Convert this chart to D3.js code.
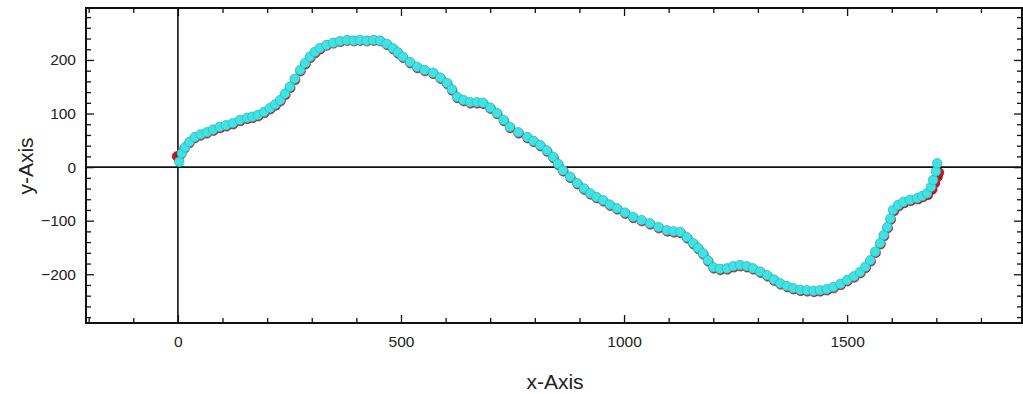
<!DOCTYPE html>
<html>
<head>
<meta charset="utf-8">
<script src="https://cdn.jsdelivr.net/npm/d3@7"></script>
<style>
  body { margin: 0; background: #fff; }
  svg { display: block; font-family: "Liberation Sans", Arial, sans-serif; }
  .tick text { fill: #222; font-size: 15.5px; }
</style>
</head>
<body>
<svg id="chart" width="1023" height="394"></svg>
<script>
// cyan series
const cyanX = [3, 9, 16, 26, 38, 51, 65, 79, 94, 108, 123, 139, 155, 167, 179, 193, 206, 218, 229, 240,
  251, 262, 274, 285, 296, 307, 318, 333, 348, 363, 379, 394, 408, 423, 438, 453, 468, 482, 493, 504,
  520, 536, 553, 572, 588, 603, 614, 626, 640, 655, 670, 684, 700, 715, 730, 744, 763, 783, 797, 812,
  827, 841, 852, 863, 879, 895, 910, 924, 938, 953, 968, 984, 1002, 1020, 1039, 1058, 1077, 1096, 1111, 1126,
  1141, 1155, 1166, 1177, 1188, 1200, 1215, 1231, 1245, 1260, 1275, 1289, 1305, 1321, 1336, 1350, 1365, 1379, 1395, 1410,
  1425, 1439, 1454, 1469, 1485, 1500, 1515, 1529, 1541, 1552, 1563, 1574, 1582, 1590, 1597, 1603, 1614, 1626, 1641, 1657,
  1668, 1679, 1688, 1693, 1699, 1702];
const cyanY = [10, 26, 37, 47, 56, 61, 65, 70, 75, 78, 82, 88, 92, 94, 97, 103, 110, 117, 125, 137,
  150, 165, 181, 194, 206, 215, 222, 228, 232, 235, 237, 236, 237, 236, 237, 236, 230, 222, 214, 206,
  196, 187, 181, 176, 167, 157, 145, 131, 125, 121, 121, 120, 111, 101, 88, 75, 65, 56, 49, 41,
  31, 19, 6, -6, -18, -30, -40, -49, -56, -62, -70, -77, -85, -93, -99, -105, -112, -118, -120, -121,
  -131, -142, -151, -161, -174, -187, -190, -189, -185, -183, -185, -189, -195, -202, -210, -217, -222, -226, -229, -230,
  -231, -230, -228, -224, -218, -211, -204, -196, -186, -174, -158, -142, -127, -112, -96, -80, -71, -65, -61, -58,
  -54, -49, -37, -24, -8, 7];

// red series, mostly hidden under the cyan one
const redX = [-2, 7, 15, 26, 38, 51, 65, 80, 95, 109, 124, 140, 156, 168, 180, 194, 207, 219, 230, 241,
  252, 263, 275, 286, 297, 308, 319, 334, 349, 364, 380, 395, 409, 424, 439, 454, 469, 483, 494, 505,
  521, 537, 554, 573, 589, 604, 615, 627, 641, 656, 671, 685, 701, 716, 731, 745, 764, 784, 798, 813,
  828, 842, 853, 864, 880, 896, 911, 925, 939, 954, 969, 985, 1003, 1021, 1040, 1059, 1078, 1097, 1112, 1127,
  1142, 1156, 1167, 1178, 1189, 1201, 1216, 1232, 1246, 1261, 1276, 1290, 1306, 1322, 1337, 1351, 1366, 1380, 1396, 1411,
  1426, 1440, 1455, 1470, 1486, 1501, 1516, 1530, 1542, 1553, 1564, 1575, 1583, 1591, 1598, 1605, 1616, 1628, 1643, 1659,
  1670, 1681, 1691, 1697, 1703, 1706];
const redY = [20, 24, 35, 45, 54, 59, 63, 68, 73, 76, 80, 86, 90, 92, 95, 101, 108, 115, 123, 135,
  148, 163, 179, 192, 204, 213, 220, 227, 231, 234, 236, 235, 236, 235, 236, 235, 228, 220, 212, 204,
  194, 185, 179, 174, 165, 155, 143, 129, 123, 119, 119, 118, 109, 99, 86, 73, 63, 54, 47, 39,
  29, 17, 4, -8, -20, -32, -42, -51, -58, -64, -72, -79, -87, -95, -101, -107, -114, -120, -122, -123,
  -133, -144, -153, -163, -176, -189, -192, -191, -187, -185, -187, -191, -197, -204, -212, -219, -224, -228, -231, -232,
  -233, -232, -230, -226, -220, -213, -206, -198, -188, -176, -160, -144, -129, -114, -98, -82, -73, -67, -63, -60,
  -56, -52, -42, -30, -18, -10];

const xMajor = [0, 500, 1000, 1500];
const xMinor = [-200, -100, 100, 200, 300, 400, 600, 700, 800, 900, 1100, 1200, 1300, 1400, 1600, 1700, 1800];
const yMajor = [-200, -100, 0, 100, 200];
const yMinor = [-280, -260, -240, -220, -180, -160, -140, -120, -80, -60, -40, -20,
  20, 40, 60, 80, 120, 140, 160, 180, 220, 240, 260, 280];

const plotLeft = 86, plotRight = 1022, plotTop = 8, plotBottom = 323;

const svg = d3.select("#chart");

const x = d3.scaleLinear().domain([-206, 1892]).range([plotLeft, plotRight]);
const y = d3.scaleLinear().domain([-291, 297]).range([plotBottom, plotTop]);

// frame ticks on all four sides, pointing inward
function drawTicks(axisFn, transform, values, size, labels, pad) {
  const g = svg.append("g")
    .attr("transform", transform)
    .call(axisFn.tickValues(values).tickSize(-size).tickPadding(pad || 9)
      .tickFormat(labels ? d => d3.format("")(d).replace("-", "\u2212") : ""));
  g.select(".domain").remove();
  g.selectAll(".tick line").attr("stroke", "#111").attr("stroke-width", 1.3);
  return g;
}

drawTicks(d3.axisBottom(x), `translate(0,${plotBottom})`, xMajor, 8, true, 13);
drawTicks(d3.axisBottom(x), `translate(0,${plotBottom})`, xMinor, 5, false);
drawTicks(d3.axisTop(x), `translate(0,${plotTop})`, xMajor, 8, false);
drawTicks(d3.axisTop(x), `translate(0,${plotTop})`, xMinor, 5, false);
drawTicks(d3.axisLeft(y), `translate(${plotLeft},0)`, yMajor, 8, true, 10);
drawTicks(d3.axisLeft(y), `translate(${plotLeft},0)`, yMinor, 5, false);
drawTicks(d3.axisRight(y), `translate(${plotRight},0)`, yMajor, 8, false);
drawTicks(d3.axisRight(y), `translate(${plotRight},0)`, yMinor, 5, false);

// frame
svg.append("rect")
  .attr("x", plotLeft).attr("y", plotTop)
  .attr("width", plotRight - plotLeft).attr("height", plotBottom - plotTop)
  .attr("fill", "none").attr("stroke", "#111").attr("stroke-width", 2);

// origin axes
svg.append("line")
  .attr("x1", x(0)).attr("x2", x(0)).attr("y1", plotTop).attr("y2", plotBottom)
  .attr("stroke", "#111").attr("stroke-width", 1.6);
svg.append("line")
  .attr("x1", plotLeft).attr("x2", plotRight).attr("y1", y(0)).attr("y2", y(0))
  .attr("stroke", "#111").attr("stroke-width", 1.6);

// points
const red = redX.map((d, i) => ({ x: d, y: redY[i] }));
const cyan = cyanX.map((d, i) => ({ x: d, y: cyanY[i] }));

svg.append("g").selectAll("circle")
  .data(red)
  .enter()
  .append("circle")
  .attr("cx", d => x(d.x))
  .attr("cy", d => y(d.y))
  .attr("r", 4.8)
  .attr("fill", "#c8141c")
  .attr("stroke", "#8a0d12")
  .attr("stroke-width", 0.6);

svg.append("g").selectAll("circle")
  .data(cyan)
  .enter()
  .append("circle")
  .attr("cx", d => x(d.x))
  .attr("cy", d => y(d.y))
  .attr("r", 4.8)
  .attr("fill", "#3fe3e3")
  .attr("stroke", "#2cb4bc")
  .attr("stroke-width", 0.7);

// axis titles
svg.append("text")
  .attr("x", 555).attr("y", 389)
  .attr("text-anchor", "middle")
  .attr("font-size", 21)
  .attr("fill", "#222")
  .text("x-Axis");

svg.append("text")
  .attr("transform", "translate(33,166) rotate(-90)")
  .attr("text-anchor", "middle")
  .attr("font-size", 21)
  .attr("fill", "#222")
  .text("y-Axis");
</script>
</body>
</html>
